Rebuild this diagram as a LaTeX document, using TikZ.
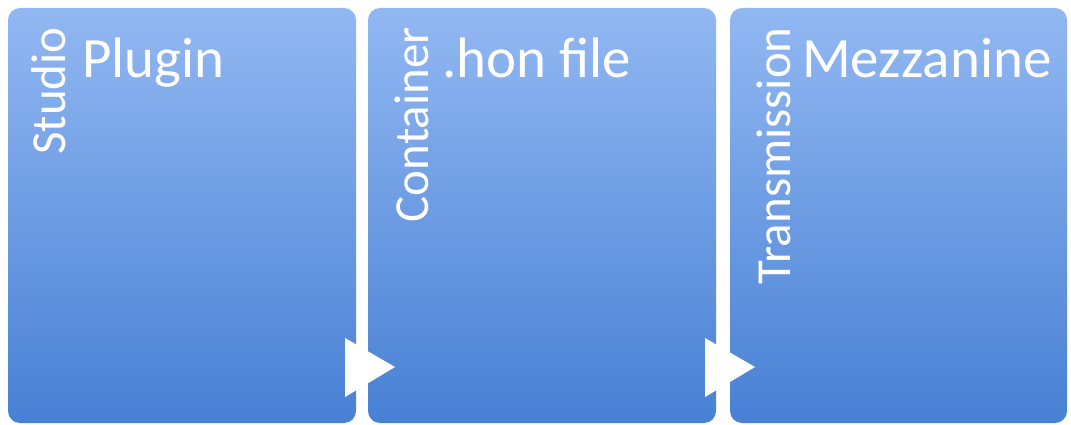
\documentclass[tikz,border=0pt]{standalone}
\usepackage{fontspec}
\setmainfont{Carlito}
\definecolor{boxtop}{RGB}{146,184,242}
\definecolor{boxbot}{RGB}{72,128,212}
\tikzset{
  stagebox/.style={rounded corners=12pt, top color=boxtop, bottom color=boxbot, draw=none,
    inner sep=0pt, outer sep=0pt, minimum height=415pt},
  maintext/.style={text=white, font=\fontsize{57}{60}\selectfont, anchor=base west, inner sep=0pt},
  sidetext/.style={text=white, font=\fontsize{49}{52}\selectfont, rotate=90, anchor=base east, inner sep=0pt},
  arrowtri/.style={fill=white, draw=none}
}
\begin{document}
\begin{tikzpicture}[x=1pt,y=-1pt]
\useasboundingbox (0,0) rectangle (1071,425);
\node[stagebox, minimum width=348pt] (b1) at (182,215.5) {};
\node[stagebox, minimum width=348pt] (b2) at (542,215.5) {};
\node[stagebox, minimum width=337pt] (b3) at (898.5,215.5) {};
\node[maintext] (t1) at (82,78) {Plugin};
\node[maintext] (t2) at (442,78) {.hon file};
\node[maintext] (t3) at (802,78) {Mezzanine};
\node[sidetext] (s1) at (65,27) {Studio};
\node[sidetext] (s2) at (428,27) {Container};
\node[sidetext] (s3) at (790,27) {Transmission};
\fill[arrowtri] (345,338) -- (395,367) -- (345,397) -- cycle;
\fill[arrowtri] (705,338) -- (755,367) -- (705,397) -- cycle;
\end{tikzpicture}
\end{document}
